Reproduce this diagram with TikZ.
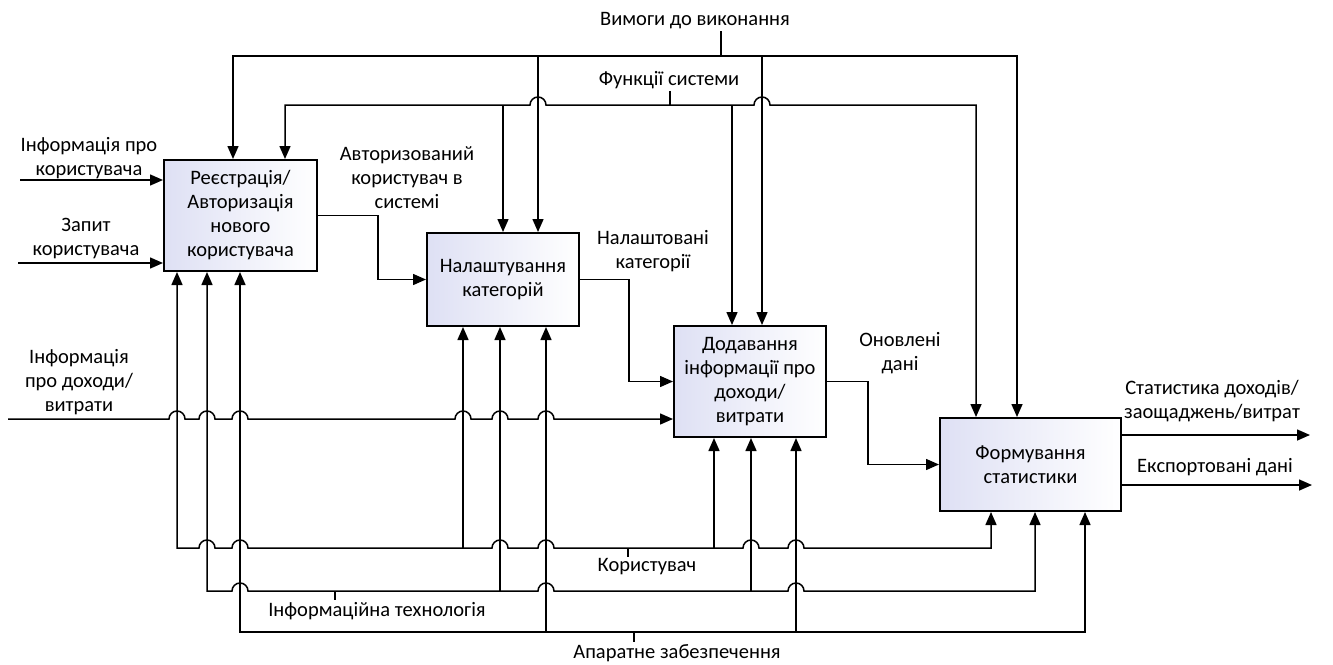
\documentclass[tikz,border=0pt]{standalone}
\usepackage{fontspec}
\setmainfont{Carlito}
\usetikzlibrary{arrows.meta,calc,positioning}
\definecolor{boxfill}{RGB}{222,224,244}
\newcommand{\hop}[2]{-- (#1-8,#2) arc[start angle=180,end angle=0,radius=8pt]}
\tikzset{
  every node/.style={font=\fontsize{20.5}{24}\selectfont},
  func/.style={draw,line width=2pt,left color=boxfill,right color=white,align=center,inner sep=0pt},
  flow/.style={line width=1.5pt},
  arr/.style={flow,-{Triangle[length=13pt,width=11pt]}},
  twoarr/.style={flow,{Triangle[length=13pt,width=11pt]}-{Triangle[length=13pt,width=11pt]}},
  lbl/.style={align=center,inner sep=2pt}
}

\begin{document}
\begin{tikzpicture}[x=1pt,y=-1pt]
\useasboundingbox (0,0) rectangle (1333,664);
\node[func,minimum width=153,minimum height=111] (A) at (240.5,215.5) {Реєстрація/\\Авторизація\\нового\\користувача};
\node[func,minimum width=152,minimum height=93] (B) at (503,279.5) {Налаштування\\категорій};
\node[func,minimum width=152,minimum height=111] (C) at (750,381.5) {Додавання\\інформації про\\доходи/\\витрати};
\node[func,minimum width=181,minimum height=93] (D) at (1030.5,464.5) {Формування\\статистики};

\node[lbl] (reqtxt) at (695,21) {Вимоги до виконання};
\node[lbl] (funtxt) at (669,80) {Функції системи};
\node[lbl] (usrtxt) at (647,567) {Користувач};
\node[lbl] (ittxt) at (377,611) {Інформаційна технологія};
\node[lbl] (hwtxt) at (677,653) {Апаратне забезпечення};
\node[lbl] (inUtxt) at (89,158) {Інформація про\\користувача};
\node[lbl] (inQtxt) at (86,239) {Запит\\користувача};
\node[lbl] (inMtxt) at (79,382) {Інформація\\про доходи/\\витрати};
\node[lbl] (authtxt) at (407,178) {Авторизований\\користувач в\\системі};
\node[lbl] (cattxt) at (653,251) {Налаштовані\\категорії};
\node[lbl] (updtxt) at (900,353) {Оновлені\\дані};
\node[lbl] (stattxt) at (1212,401) {Статистика доходів/\\заощаджень/витрат};
\node[lbl] (exptxt) at (1215,467) {Експортовані дані};

\coordinate (c1a) at (233,56);
\coordinate (c1b) at (538,56);
\coordinate (c1c) at (762,56);
\coordinate (c1d) at (1017,56);
\coordinate (c1s) at (721,56);
\coordinate (c2a) at (285,105);
\coordinate (c2b) at (503,105);
\coordinate (c2c) at (732,105);
\coordinate (c2d) at (976,105);
\coordinate (c2s) at (670,105);
\coordinate (m1a) at (177,548);
\coordinate (m1b) at (463,548);
\coordinate (m1c) at (714,548);
\coordinate (m1d) at (991,548);
\coordinate (m1s) at (628,548);
\coordinate (m2a) at (207,591);
\coordinate (m2b) at (500,591);
\coordinate (m2c) at (751,591);
\coordinate (m2d) at (1035,591);
\coordinate (m2s) at (335,591);
\coordinate (m3a) at (240,632);
\coordinate (m3b) at (546,632);
\coordinate (m3c) at (796,632);
\coordinate (m3d) at (1085,632);
\coordinate (m3s) at (634,632);
\coordinate (inU) at (20,180);
\coordinate (inQ) at (18,263);
\coordinate (inM) at (8,419);
\coordinate (outS) at (1310,435);
\coordinate (outE) at (1312,485);

\draw[twoarr] (c1a |- A.north) -- (c1a) -- (c1d) -- (c1d |- D.north);
\draw[arr] (c1b) -- (c1b |- B.north);
\draw[arr] (c1c) -- (c1c |- C.north);
\draw[flow] (reqtxt.south -| c1s) -- (c1s);
\draw[twoarr] (c2a |- A.north) -- (c2a) \hop{538}{105} \hop{762}{105} -- (c2d) -- (c2d |- D.north);
\draw[arr] (c2b) -- (c2b |- B.north);
\draw[arr] (c2c) -- (c2c |- C.north);
\draw[flow] (funtxt.south -| c2s) -- (c2s);

\draw[arr] (inU) -- (inU -| A.west);
\draw[arr] (inQ) -- (inQ -| A.west);
\draw[arr] (inM) \hop{177}{419} \hop{207}{419} \hop{240}{419} \hop{463}{419} \hop{500}{419} \hop{546}{419} -- (inM -| C.west);
\draw[arr] (A.east) -- ++(60,0) |- (B.west);
\draw[arr] (B.east) -- ++(49,0) |- (C.west);
\draw[arr] (C.east) -- ++(41,0) |- (D.west);
\draw[arr] (outS -| D.east) -- (outS);
\draw[arr] (outE -| D.east) -- (outE);

\draw[twoarr] (m1a |- A.south) -- (m1a) \hop{207}{548} \hop{240}{548} \hop{500}{548} \hop{546}{548} \hop{751}{548} \hop{796}{548} -- (m1d) -- (m1d |- D.south);
\draw[arr] (m1b) -- (m1b |- B.south);
\draw[arr] (m1c) -- (m1c |- C.south);
\draw[flow] (m1s) -- (usrtxt.north -| m1s);
\draw[twoarr] (m2a |- A.south) -- (m2a) \hop{240}{591} \hop{546}{591} \hop{796}{591} -- (m2d) -- (m2d |- D.south);
\draw[arr] (m2b) -- (m2b |- B.south);
\draw[arr] (m2c) -- (m2c |- C.south);
\draw[flow] (m2s) -- (ittxt.north -| m2s);
\draw[twoarr] (m3a |- A.south) -- (m3a) -- (m3d) -- (m3d |- D.south);
\draw[arr] (m3b) -- (m3b |- B.south);
\draw[arr] (m3c) -- (m3c |- C.south);
\draw[flow] (m3s) -- (hwtxt.north -| m3s);
\end{tikzpicture}
\end{document}
